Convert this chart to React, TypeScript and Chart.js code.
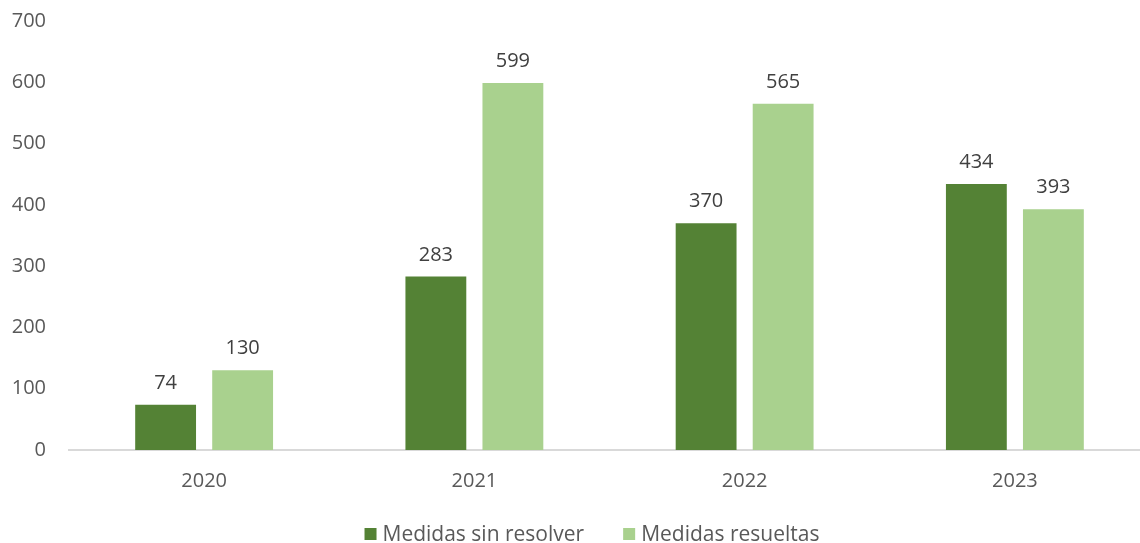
import React, { useEffect, useRef } from "react";
import { Chart, registerables } from "chart.js";

Chart.register(...registerables);

const categories = ["2020", "2021", "2022", "2023"];
const sinResolver = [74, 283, 370, 434];
const resueltas = [130, 599, 565, 393];
const seriesNames = ["Medidas sin resolver", "Medidas resueltas"];
const seriesColors = ["#548235", "#A9D18E"];
const yTicks = [0, 100, 200, 300, 400, 500, 600, 700];

const FONT = "'Open Sans', sans-serif";
const TEXT = "#595959";
const FS = 20;

const dataLabels = {
  id: "dataLabels",
  afterDatasetsDraw(chart: any) {
    const ctx = chart.ctx;
    ctx.save();
    ctx.font = `${FS}px ${FONT}`;
    ctx.fillStyle = "#404040";
    ctx.textAlign = "center";
    ctx.textBaseline = "alphabetic";
    chart.data.datasets.forEach((ds: any, i: number) => {
      const meta = chart.getDatasetMeta(i);
      meta.data.forEach((bar: any, j: number) => {
        ctx.fillText(String(ds.data[j]), bar.x, bar.y - 16);
      });
    });
    ctx.restore();
  },
};

const bottomLegend = {
  id: "bottomLegend",
  afterDraw(chart: any) {
    const ctx = chart.ctx;
    ctx.save();
    ctx.font = `21px ${FONT}`;
    ctx.textBaseline = "middle";
    ctx.textAlign = "left";
    const box = 12;
    const gapBoxText = 6;
    const gapItems = 39;
    const items = chart.data.datasets.map((ds: any) => ({
      text: ds.label,
      color: ds.backgroundColor,
      w: box + gapBoxText + ctx.measureText(ds.label).width,
    }));
    const total = items.reduce((s: number, it: any) => s + it.w, 0) + gapItems * (items.length - 1);
    const center = 592;
    let x = center - total / 2;
    const cy = 534;
    items.forEach((it: any) => {
      ctx.fillStyle = it.color;
      ctx.fillRect(x, cy - box / 2, box, box);
      ctx.fillStyle = TEXT;
      ctx.fillText(it.text, x + box + gapBoxText, cy + 1);
      x += it.w + gapItems;
    });
    ctx.restore();
  },
};

export default function App() {
  const ref = useRef<HTMLCanvasElement>(null);
  useEffect(() => {
    document.body.style.margin = "0";
    const chart = new Chart(ref.current!, {
      type: "bar",
      data: {
        labels: categories,
        datasets: [
          { label: seriesNames[0], data: sinResolver, backgroundColor: seriesColors[0] },
          { label: seriesNames[1], data: resueltas, backgroundColor: seriesColors[1] },
        ],
      },
      options: {
        animation: false,
        responsive: false,
        layout: { padding: { top: 21, right: 0, left: 11, bottom: 55 } },
        datasets: { bar: { barPercentage: 0.79, categoryPercentage: 0.57 } },
        scales: {
          x: {
            afterFit: (axis: any) => {
              axis.height = 38;
              axis.paddingLeft = 0;
              axis.paddingRight = 0;
            },
            grid: { display: false, drawTicks: false },
            border: { display: true, color: "#D9D9D9", width: 2 },
            ticks: { color: TEXT, font: { family: FONT, size: FS }, padding: 19 },
          },
          y: {
            min: 0,
            max: 700,
            afterBuildTicks: (axis: any) => {
              axis.ticks = yTicks.map((v) => ({ value: v }));
            },
            afterFit: (axis: any) => {
              axis.width = 58;
              axis.paddingTop = 0;
              axis.paddingBottom = 0;
            },
            grid: { display: false, drawTicks: false },
            border: { display: false },
            ticks: { color: TEXT, font: { family: FONT, size: FS }, padding: 23 },
          },
        },
        plugins: {
          legend: { display: false },
          tooltip: { enabled: false },
        },
      },
      plugins: [dataLabels, bottomLegend],
    });
    return () => chart.destroy();
  }, []);
  return (
    <div style={{ width: 1140, height: 543, overflow: "hidden" }}>
      <canvas ref={ref} width={1150} height={543} style={{ display: "block" }} />
    </div>
  );
}
